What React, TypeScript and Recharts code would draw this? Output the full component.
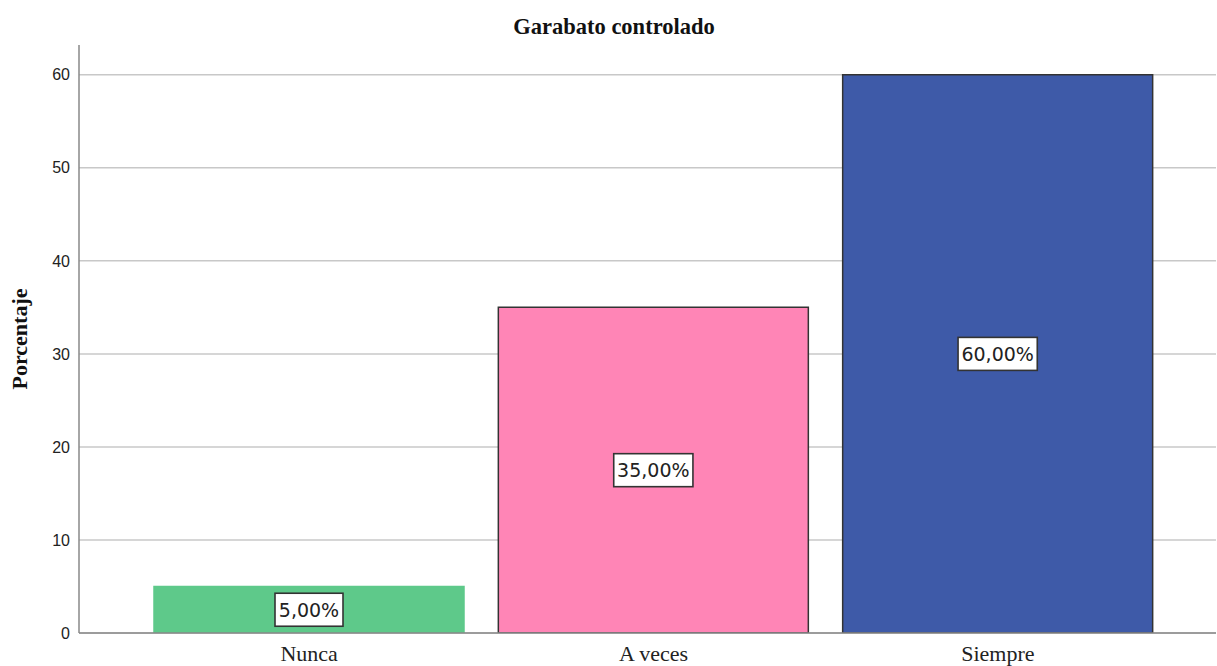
import React from 'react';
import { BarChart, Bar, XAxis, YAxis, CartesianGrid, Cell, LabelList } from 'recharts';

const categories = ['Nunca', 'A veces', 'Siempre'];
const percentages = [5, 35, 60];
const percentLabels = ['5,00%', '35,00%', '60,00%'];
const barColors = ['#5ec98a', '#ff85b6', '#3e5aa8'];
const barStrokes = ['#5ec98a', '#333333', '#333333'];
const yTicks = [0, 10, 20, 30, 40, 50, 60];

const data = categories.map((c, i) => ({ name: c, value: percentages[i], label: percentLabels[i] }));

const XTick = (props: any) => {
  const { x, y, payload } = props;
  return (
    <text x={x} y={y} dy={20} textAnchor="middle" fontFamily="Liberation Serif" fontSize={22} fill="#222">
      {payload.value}
    </text>
  );
};

const BoxLabel = (props: any) => {
  const { x, y, width, height, index } = props;
  const text = percentLabels[index];
  const cx = x + width / 2;
  const cy = y + height / 2;
  const w = text.length * 11.2 + 12;
  const h = 33;
  return (
    <g>
      <rect x={cx - w / 2} y={cy - h / 2} width={w} height={h} fill="#ffffff" stroke="#333333" strokeWidth={1.6} />
      <text x={cx} y={cy} dy={7} textAnchor="middle" fontFamily="DejaVu Sans" fontSize={19} fill="#222">
        {text}
      </text>
    </g>
  );
};

export default function App() {
  return (
    <div style={{ position: 'absolute', left: 0, top: 0, width: 1217, height: 666, background: '#fff' }}>
      <div
        style={{
          position: 'absolute',
          left: 414,
          width: 400,
          top: 14,
          textAlign: 'center',
          fontFamily: 'Liberation Serif',
          fontWeight: 'bold',
          fontSize: 22.5,
          color: '#111',
          lineHeight: '26px',
        }}
      >
        Garabato controlado
      </div>
      <BarChart
        width={1217}
        height={666}
        data={data}
        margin={{ top: 45, right: 1, left: 0, bottom: 0 }}
        barCategoryGap={17}
      >
        <CartesianGrid horizontal vertical={false} stroke="#c8c8c8" strokeWidth={1.5} syncWithTicks />
        <XAxis
          dataKey="name"
          height={33}
          axisLine={{ stroke: '#888', strokeWidth: 1.5 }}
          tickLine={false}
          tick={<XTick />}
          padding={{ left: 58, right: 46 }}
          interval={0}
        />
        <YAxis
          width={79}
          domain={[0, 63.2]}
          ticks={yTicks}
          allowDataOverflow
          axisLine={{ stroke: '#888', strokeWidth: 1.5 }}
          tickLine={false}
          tickSize={6}
          tickMargin={3}
          tick={{ fontFamily: 'Liberation Sans', fontSize: 16, fill: '#222' }}
          label={{
            content: (p: any) => {
              const vb = p.viewBox || {};
              const cy = (vb.y ?? 45) + (vb.height ?? 588) / 2;
              return (
                <text
                  x={20}
                  y={cy}
                  transform={`rotate(-90, 20, ${cy})`}
                  dy={7}
                  textAnchor="middle"
                  fontFamily="Liberation Serif"
                  fontWeight="bold"
                  fontSize={22}
                  fill="#111"
                >
                  Porcentaje
                </text>
              );
            },
          }}
        />
        <Bar dataKey="value" isAnimationActive={false}>
          {data.map((d, i) => (
            <Cell key={d.name} fill={barColors[i]} stroke={barStrokes[i]} strokeWidth={1.5} />
          ))}
          <LabelList dataKey="label" content={<BoxLabel />} />
        </Bar>
      </BarChart>
    </div>
  );
}
